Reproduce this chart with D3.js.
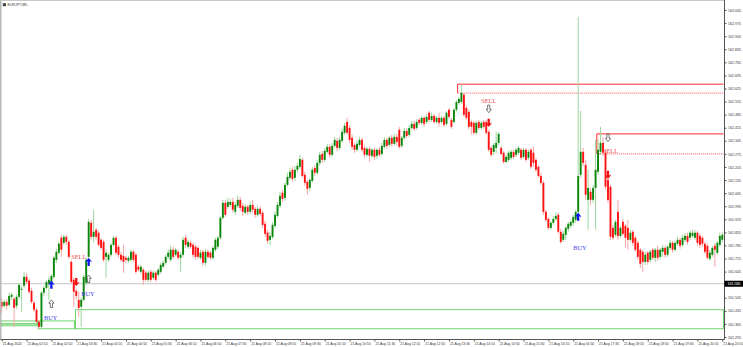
<!DOCTYPE html>
<html>
<head>
<meta charset="utf-8">
<script src="https://cdn.jsdelivr.net/npm/d3@7"></script>
<style>
  html, body { margin: 0; padding: 0; background: #fff; }
  svg { display: block; font-family: "Liberation Sans", Arial, sans-serif; }
</style>
</head>
<body>
<svg id="chart" width="743" height="347"></svg>
<script>
"use strict";

/* EURJPY bars (price) */
const opens = [
  161.483,161.462,161.483,161.467,161.510,161.499,161.462,161.510,161.548,161.569,
  161.617,161.596,161.542,161.478,161.441,161.376,161.350,161.532,161.558,161.580,
  161.590,161.617,161.708,161.746,161.826,161.799,161.831,161.804,161.697,161.601,
  161.542,161.494,161.457,161.494,161.585,161.724,161.906,161.831,161.869,161.853,
  161.815,161.804,161.724,161.708,161.735,161.788,161.826,161.778,161.735,161.729,
  161.719,161.703,161.708,161.751,161.735,161.671,161.644,161.655,161.639,161.601,
  161.644,161.612,161.639,161.628,161.644,161.671,161.692,161.724,161.708,161.762,
  161.735,161.751,161.719,161.735,161.826,161.778,161.799,161.788,161.778,161.772,
  161.719,161.751,161.692,161.751,161.746,161.719,161.762,161.778,161.826,161.933,
  162.013,161.992,162.002,162.018,161.965,161.997,162.029,161.997,161.960,161.992,
  161.965,162.002,161.981,161.949,161.981,161.960,161.901,161.853,161.815,161.831,
  161.890,161.943,161.997,162.067,162.040,162.109,162.147,162.190,162.147,162.190,
  162.206,162.243,162.163,162.125,162.093,162.131,162.200,162.174,162.227,162.275,
  162.243,162.286,162.313,162.270,162.318,162.345,162.307,162.345,162.388,162.446,
  162.414,162.361,162.323,162.297,162.323,162.350,162.307,162.270,162.302,162.265,
  162.297,162.265,162.297,162.275,162.313,162.350,162.323,162.361,162.329,162.366,
  162.404,162.318,162.361,162.398,162.377,162.414,162.436,162.414,162.457,162.441,
  162.468,162.446,162.495,162.457,162.478,162.446,162.468,162.446,162.468,162.436,
  162.511,162.457,162.446,162.511,162.548,162.553,162.591,162.521,162.500,162.446,
  162.441,162.388,162.446,162.414,162.446,162.446,162.393,162.307,162.286,162.307,
  162.334,162.307,162.281,162.232,162.243,162.254,162.286,162.270,162.281,162.297,
  162.259,162.297,162.254,162.297,162.281,162.243,162.206,162.157,162.120,161.965,
  161.927,161.879,161.906,161.927,161.949,161.858,161.815,161.842,161.874,161.890,
  161.906,161.922,161.965,162.163,162.286,162.216,162.029,162.072,162.029,162.093,
  162.179,162.286,162.334,162.281,162.136,162.099,161.879,161.842,161.965,161.836,
  161.911,161.890,161.879,161.815,161.858,161.826,161.799,161.762,161.751,161.697,
  161.746,161.708,161.762,161.719,161.762,161.724,161.751,161.772,161.735,161.772,
  161.799,161.762,161.794,161.815,161.788,161.815,161.836,161.826,161.836,161.826,
  161.853,161.836,161.826,161.794,161.783,161.713,161.735,161.783,161.746,161.788,
  161.815
];
const highs = [
  161.505,161.494,161.499,161.532,161.532,161.510,161.521,161.585,161.569,161.644,
  161.639,161.606,161.558,161.489,161.451,161.387,161.542,161.569,161.601,161.617,
  161.633,161.729,161.767,161.804,161.842,161.842,161.842,161.815,161.708,161.612,
  161.553,161.537,161.505,161.628,161.719,161.927,161.922,161.976,161.879,161.863,
  161.826,161.815,161.762,161.746,161.799,161.836,161.836,161.788,161.751,161.788,
  161.729,161.729,161.762,161.762,161.746,161.681,161.681,161.665,161.649,161.649,
  161.655,161.649,161.649,161.665,161.692,161.703,161.735,161.762,161.783,161.778,
  161.772,161.762,161.751,161.831,161.842,161.815,161.810,161.799,161.788,161.783,
  161.762,161.762,161.767,161.762,161.756,161.783,161.826,161.836,161.943,162.029,
  162.029,162.040,162.034,162.040,162.018,162.051,162.045,162.013,162.008,162.002,
  162.018,162.029,161.992,161.997,161.992,161.970,161.917,161.869,161.858,161.911,
  161.965,162.018,162.072,162.083,162.125,162.174,162.200,162.206,162.211,162.227,
  162.270,162.254,162.179,162.136,162.147,162.206,162.216,162.243,162.286,162.291,
  162.307,162.329,162.329,162.334,162.366,162.361,162.366,162.409,162.441,162.468,
  162.430,162.377,162.334,162.345,162.366,162.361,162.318,162.313,162.313,162.307,
  162.307,162.307,162.313,162.334,162.366,162.361,162.371,162.377,162.382,162.382,
  162.420,162.371,162.414,162.414,162.430,162.452,162.452,162.462,162.468,162.478,
  162.478,162.489,162.505,162.495,162.489,162.478,162.495,162.478,162.478,162.505,
  162.521,162.468,162.521,162.564,162.580,162.644,162.601,162.532,162.511,162.457,
  162.452,162.452,162.457,162.452,162.457,162.457,162.404,162.318,162.334,162.393,
  162.393,162.318,162.291,162.270,162.291,162.297,162.297,162.307,162.318,162.307,
  162.307,162.307,162.297,162.307,162.313,162.254,162.216,162.174,162.131,161.976,
  161.938,161.917,161.943,161.960,161.960,161.874,161.863,161.890,161.911,161.922,
  161.949,161.976,163.008,162.505,162.307,162.243,162.190,162.093,162.109,162.350,
  162.350,162.420,162.366,162.297,162.157,162.109,161.895,161.922,162.029,161.890,
  161.927,161.901,161.922,161.869,161.869,161.836,161.810,161.772,161.762,161.751,
  161.756,161.762,161.772,161.772,161.783,161.772,161.788,161.783,161.788,161.815,
  161.810,161.810,161.831,161.826,161.842,161.853,161.853,161.863,161.869,161.869,
  161.863,161.847,161.836,161.804,161.794,161.762,161.783,161.799,161.810,161.853,
  161.858
];
const lows = [
  161.424,161.451,161.441,161.457,161.494,161.350,161.446,161.499,161.430,161.558,
  161.580,161.526,161.473,161.430,161.371,161.339,161.344,161.515,161.548,161.494,
  161.580,161.606,161.692,161.735,161.724,161.788,161.788,161.713,161.580,161.457,
  161.494,161.403,161.350,161.483,161.574,161.713,161.815,161.799,161.815,161.778,
  161.762,161.697,161.612,161.697,161.724,161.778,161.735,161.719,161.697,161.639,
  161.692,161.692,161.697,161.697,161.633,161.644,161.633,161.574,161.590,161.590,
  161.590,161.601,161.590,161.617,161.633,161.665,161.681,161.713,161.697,161.713,
  161.724,161.708,161.644,161.724,161.772,161.767,161.767,161.719,161.708,161.713,
  161.708,161.676,161.676,161.713,161.708,161.708,161.751,161.767,161.815,161.922,
  161.938,161.981,161.992,161.960,161.949,161.986,161.970,161.943,161.949,161.949,
  161.954,161.960,161.933,161.938,161.943,161.879,161.831,161.794,161.788,161.820,
  161.879,161.933,161.986,162.018,162.024,162.099,162.136,162.125,162.131,162.174,
  162.195,162.147,162.104,162.056,162.077,162.120,162.157,162.163,162.211,162.227,
  162.232,162.275,162.254,162.259,162.307,162.291,162.297,162.334,162.377,162.377,
  162.334,162.297,162.281,162.286,162.313,162.286,162.254,162.259,162.232,162.254,
  162.243,162.248,162.259,162.265,162.302,162.302,162.313,162.313,162.318,162.323,
  162.302,162.307,162.350,162.361,162.366,162.404,162.398,162.404,162.430,162.430,
  162.420,162.436,162.446,162.446,162.436,162.436,162.420,162.436,162.420,162.425,
  162.462,162.409,162.436,162.500,162.537,162.543,162.473,162.457,162.404,162.377,
  162.377,162.377,162.404,162.404,162.409,162.377,162.286,162.259,162.270,162.281,
  162.323,162.265,162.222,162.222,162.232,162.243,162.248,162.259,162.270,162.243,
  162.248,162.232,162.243,162.195,162.206,162.179,162.147,162.109,161.949,161.911,
  161.869,161.869,161.895,161.917,161.847,161.794,161.804,161.815,161.858,161.879,
  161.890,161.906,161.954,162.147,162.211,162.029,161.869,162.002,162.013,161.869,
  162.163,162.270,162.265,162.083,162.013,161.815,161.815,161.831,161.815,161.826,
  161.836,161.772,161.762,161.804,161.783,161.751,161.708,161.665,161.644,161.681,
  161.681,161.692,161.708,161.697,161.703,161.713,161.724,161.719,161.724,161.762,
  161.746,161.751,161.783,161.767,161.778,161.804,161.788,161.815,161.826,161.815,
  161.783,161.772,161.778,161.740,161.708,161.703,161.724,161.671,161.735,161.778,
  161.804
];
const closes = [
  161.457,161.483,161.462,161.515,161.521,161.451,161.510,161.574,161.553,161.617,
  161.590,161.537,161.483,161.441,161.376,161.350,161.532,161.558,161.590,161.601,
  161.622,161.719,161.751,161.794,161.762,161.831,161.804,161.724,161.590,161.537,
  161.515,161.451,161.494,161.617,161.708,161.911,161.831,161.858,161.831,161.788,
  161.772,161.708,161.746,161.735,161.788,161.826,161.746,161.735,161.708,161.697,
  161.708,161.719,161.751,161.708,161.644,161.655,161.671,161.601,161.601,161.639,
  161.601,161.639,161.601,161.655,161.681,161.692,161.724,161.746,161.762,161.724,
  161.762,161.719,161.735,161.815,161.788,161.804,161.778,161.735,161.724,161.724,
  161.746,161.692,161.751,161.724,161.719,161.772,161.815,161.826,161.933,162.013,
  161.949,162.018,162.018,161.976,162.002,162.029,161.986,161.965,161.992,161.965,
  162.002,161.976,161.949,161.981,161.954,161.895,161.847,161.810,161.836,161.895,
  161.949,162.002,162.051,162.034,162.109,162.152,162.179,162.141,162.190,162.211,
  162.248,162.157,162.120,162.088,162.136,162.190,162.174,162.227,162.270,162.243,
  162.291,162.313,162.270,162.318,162.350,162.307,162.350,162.393,162.425,162.388,
  162.350,162.313,162.297,162.329,162.350,162.297,162.270,162.302,162.265,162.297,
  162.259,162.297,162.270,162.318,162.350,162.318,162.361,162.329,162.366,162.339,
  162.313,162.361,162.398,162.371,162.414,162.436,162.409,162.446,162.441,162.468,
  162.436,162.473,162.457,162.478,162.446,162.468,162.441,162.468,162.430,162.495,
  162.473,162.420,162.511,162.553,162.569,162.601,162.484,162.468,162.420,162.420,
  162.388,162.441,162.414,162.441,162.420,162.388,162.297,162.270,162.323,162.334,
  162.382,162.275,162.232,162.259,162.281,162.286,162.259,162.297,162.307,162.254,
  162.297,162.243,162.286,162.206,162.227,162.190,162.157,162.120,161.965,161.922,
  161.879,161.906,161.927,161.943,161.858,161.804,161.847,161.879,161.901,161.911,
  161.938,161.965,162.157,162.286,162.227,162.056,162.093,162.029,162.093,162.190,
  162.297,162.334,162.281,162.099,162.029,161.831,161.826,161.911,161.836,161.879,
  161.847,161.826,161.815,161.853,161.799,161.762,161.724,161.687,161.697,161.735,
  161.697,161.751,161.719,161.762,161.719,161.762,161.772,161.735,161.778,161.799,
  161.762,161.799,161.815,161.783,161.826,161.836,161.804,161.853,161.853,161.853,
  161.799,161.788,161.794,161.751,161.719,161.746,161.772,161.762,161.799,161.836,
  161.842
];

const timeLabels = ["21 Aug 2024","21 Aug 02:10","21 Aug 02:50","21 Aug 03:30","21 Aug 04:10",
  "21 Aug 04:50","21 Aug 05:30","21 Aug 06:10","21 Aug 06:50","21 Aug 07:30","21 Aug 08:10",
  "21 Aug 08:50","21 Aug 09:30","21 Aug 10:10","21 Aug 10:50","21 Aug 11:30","21 Aug 12:10",
  "21 Aug 12:50","21 Aug 13:30","21 Aug 14:10","21 Aug 14:50","21 Aug 15:30","21 Aug 16:10",
  "21 Aug 16:50","21 Aug 17:30","21 Aug 18:10","21 Aug 18:50","21 Aug 19:30","21 Aug 20:10",
  "21 Aug 20:50"];
const timeTickBars = [0,10,20,30,40,50,60,70,80,90,100,110,120,130,140,150,160,170,180,190,
  200,210,220,230,240,250,260,270,280,290];
const priceTicks = [163.045,162.975,162.905,162.835,162.765,162.695,162.625,162.555,162.485,
  162.415,162.345,162.275,162.205,162.135,162.065,161.995,161.925,161.855,161.785,161.715,
  161.645,161.575,161.505,161.435,161.365,161.295];
const markPrice = 161.580;

/* objects on the chart: [bar, price] */
const buyArrows = [[20,161.574],[35,161.697],[232,161.938]];
const sellArrows = [[30,161.590],[196,162.441],[244,162.163]];
const hollowUp = [[20,161.473],[35,161.606]];
const hollowDown = [[196,162.516],[244,162.361]];
const buyTexts = [[17,161.398],[32,161.526],[230,161.772]];
const sellTexts = [[28,161.724],[193,162.559],[242,162.291]];
/* [startBar, endBar (null = right edge), top, bottom] */
const redBoxes = [[184,null,162.648,162.600],[240,null,162.382,162.275]];
const greenBoxes = [[0,15,161.381,161.365],[0,15,161.365,161.355],[15,30,161.381,161.339],[30,null,161.441,161.339]];

const svg = d3.select('#chart');
const W = 743, H = 347;
const plotRight = 724, plotBottom = 339.5;

let x = d3.scaleLinear().domain([0, 290]).range([1.7, 722.3]);
let y = d3.scaleLinear().domain([161.295, 163.045]).range([337, 10]);
let step = x(1) - x(0);
let leftEdge = b => b === null ? plotRight : Math.max(0, x(b) - step / 2);

svg.append('defs').append('clipPath').attr('id', 'plot')
   .append('rect').attr('x', 0).attr('y', 0).attr('width', plotRight).attr('height', plotBottom);

let plot = svg.append('g').attr('clip-path', 'url(#plot)');

/* green boxes */
plot.selectAll('rect.gbox')
    .data(greenBoxes)
    .enter().append('rect')
    .attr('class', 'gbox')
    .attr('x', d => leftEdge(d[0]) + 0.5)
    .attr('y', d => y(d[2]))
    .attr('width', d => leftEdge(d[1]) - leftEdge(d[0]) - 1)
    .attr('height', d => y(d[3]) - y(d[2]))
    .attr('fill', 'none')
    .attr('stroke', '#5fce5f')
    .attr('stroke-width', 0.9);

/* red boxes: solid top and left, dotted bottom */
redBoxes.forEach(d => {
  let x0 = leftEdge(d[0]), x1 = plotRight - 0.5;
  plot.append('path')
      .attr('d', `M${x1},${y(d[2])}H${x0}V${y(d[3])}`)
      .attr('fill', 'none').attr('stroke', '#ff2a2a').attr('stroke-width', 1);
  plot.append('line')
      .attr('x1', x0).attr('x2', x1).attr('y1', y(d[3])).attr('y2', y(d[3]))
      .attr('stroke', '#ff4a4a').attr('stroke-width', 0.8).attr('stroke-dasharray', '1.2,0.8');
});

/* marker line */
plot.append('line')
    .attr('x1', 0).attr('x2', plotRight).attr('y1', y(markPrice)).attr('y2', y(markPrice))
    .attr('stroke', '#c4c4c4').attr('stroke-width', 1);

/* candles */
let bars = d3.range(opens.length).map(i => ({i: i, o: opens[i], h: highs[i], l: lows[i], c: closes[i]}));

plot.selectAll('line.wick')
    .data(bars)
    .enter().append('line')
    .attr('class', 'wick')
    .attr('x1', d => x(d.i)).attr('x2', d => x(d.i))
    .attr('y1', d => y(d.h)).attr('y2', d => y(d.l))
    .attr('stroke', d => d.c >= d.o ? '#9cd69c' : '#f6a4a4')
    .attr('stroke-width', 1);

plot.selectAll('rect.body')
    .data(bars)
    .enter().append('rect')
    .attr('class', 'body')
    .attr('x', d => x(d.i) - 0.95)
    .attr('width', 1.9)
    .attr('y', d => y(Math.max(d.o, d.c)))
    .attr('height', d => Math.max(0.8, Math.abs(y(d.o) - y(d.c))))
    .attr('fill', d => d.c >= d.o ? '#0b860b' : '#ff1212');

/* arrows */
const solidUp = 'M0,-4C1.5,-2.6 2.6,-1.2 3.3,0.4L1.15,-0.8L1.15,4L-1.15,4L-1.15,-0.8L-3.3,0.4C-2.6,-1.2 -1.5,-2.6 0,-4Z';
const openUp = 'M0,-3.8L2.6,-0.5L1.1,-0.5L1.1,3.8L-1.1,3.8L-1.1,-0.5L-2.6,-0.5Z';

plot.selectAll('path.buyArrow')
    .data(buyArrows).enter().append('path')
    .attr('class', 'buyArrow')
    .attr('d', solidUp)
    .attr('transform', d => `translate(${x(d[0])},${y(d[1])})`)
    .attr('fill', '#0a14f0');

plot.selectAll('path.sellArrow')
    .data(sellArrows).enter().append('path')
    .attr('class', 'sellArrow')
    .attr('d', solidUp)
    .attr('transform', d => `translate(${x(d[0])},${y(d[1])}) scale(1,-1)`)
    .attr('fill', '#f01010');

plot.selectAll('path.hollowUp')
    .data(hollowUp).enter().append('path')
    .attr('class', 'hollowUp')
    .attr('d', openUp)
    .attr('transform', d => `translate(${x(d[0])},${y(d[1])})`)
    .attr('fill', '#fff').attr('stroke', '#222').attr('stroke-width', 0.6);

plot.selectAll('path.hollowDown')
    .data(hollowDown).enter().append('path')
    .attr('class', 'hollowDown')
    .attr('d', openUp)
    .attr('transform', d => `translate(${x(d[0])},${y(d[1])}) scale(1,-1)`)
    .attr('fill', '#fff').attr('stroke', '#222').attr('stroke-width', 0.6);

/* BUY / SELL labels */
plot.selectAll('text.buy')
    .data(buyTexts).enter().append('text')
    .attr('class', 'buy')
    .attr('x', d => x(d[0]))
    .attr('y', d => y(d[1]))
    .attr('dy', '0.35em')
    .style('font-family', '"Liberation Serif", "Times New Roman", serif')
    .style('font-size', '6.3px')
    .attr('fill', '#4848ee')
    .text('BUY');

plot.selectAll('text.sell')
    .data(sellTexts).enter().append('text')
    .attr('class', 'sell')
    .attr('x', d => x(d[0]))
    .attr('y', d => y(d[1]))
    .attr('dy', '0.35em')
    .style('font-family', '"Liberation Serif", "Times New Roman", serif')
    .style('font-size', '6.3px')
    .attr('fill', '#f24848')
    .text('SELL');

/* price axis */
let yAxis = svg.append('g')
   .attr('transform', `translate(${plotRight + 0.5},0)`)
   .call(d3.axisRight(y).tickValues(priceTicks).tickFormat(d3.format('.3f')).tickSize(2).tickPadding(1.5));
yAxis.select('.domain').attr('stroke', '#555').attr('d', `M0,0V${plotBottom}`);
yAxis.selectAll('line').attr('stroke', '#555');
yAxis.selectAll('text').style('font-size', '3.6px').attr('fill', '#333');

/* time axis */
let xAxis = svg.append('g')
   .attr('transform', `translate(0,${plotBottom})`)
   .call(d3.axisBottom(x).tickValues(timeTickBars).tickFormat((d, i) => timeLabels[i]).tickSize(2));
xAxis.select('.domain').attr('stroke', '#555').attr('d', `M0,0H${plotRight + 0.5}`);
xAxis.selectAll('line').attr('stroke', '#555');
xAxis.selectAll('text')
     .attr('text-anchor', 'start').attr('x', 0.5).attr('y', 3.2).attr('dy', '0.71em')
     .style('font-size', '3.4px').attr('fill', '#333');

/* marker price label */
svg.append('rect')
   .attr('x', plotRight + 0.5).attr('y', y(markPrice) - 3)
   .attr('width', W - plotRight).attr('height', 6)
   .attr('fill', '#000');
svg.append('text')
   .attr('x', plotRight + 3.5).attr('y', y(markPrice)).attr('dy', '0.35em')
   .style('font-size', '3.6px').attr('fill', '#fff')
   .text(d3.format('.3f')(markPrice));

/* frame and title */
svg.append('line').attr('x1', 0.75).attr('x2', 0.75).attr('y1', 0).attr('y2', plotBottom)
   .attr('stroke', '#b8b8b8').attr('stroke-width', 1.5);
svg.append('line').attr('x1', 0).attr('x2', plotRight).attr('y1', 0.5).attr('y2', 0.5)
   .attr('stroke', '#c8c8c8').attr('stroke-width', 1);
svg.append('path').attr('d', 'M2.8,3.2H6V6.2H2.8Z').attr('fill', '#444');
svg.append('text')
   .attr('x', 7.5).attr('y', 6)
   .style('font-size', '3.6px').attr('fill', '#333')
   .text('EURJPY,M5');
</script>
</body>
</html>
